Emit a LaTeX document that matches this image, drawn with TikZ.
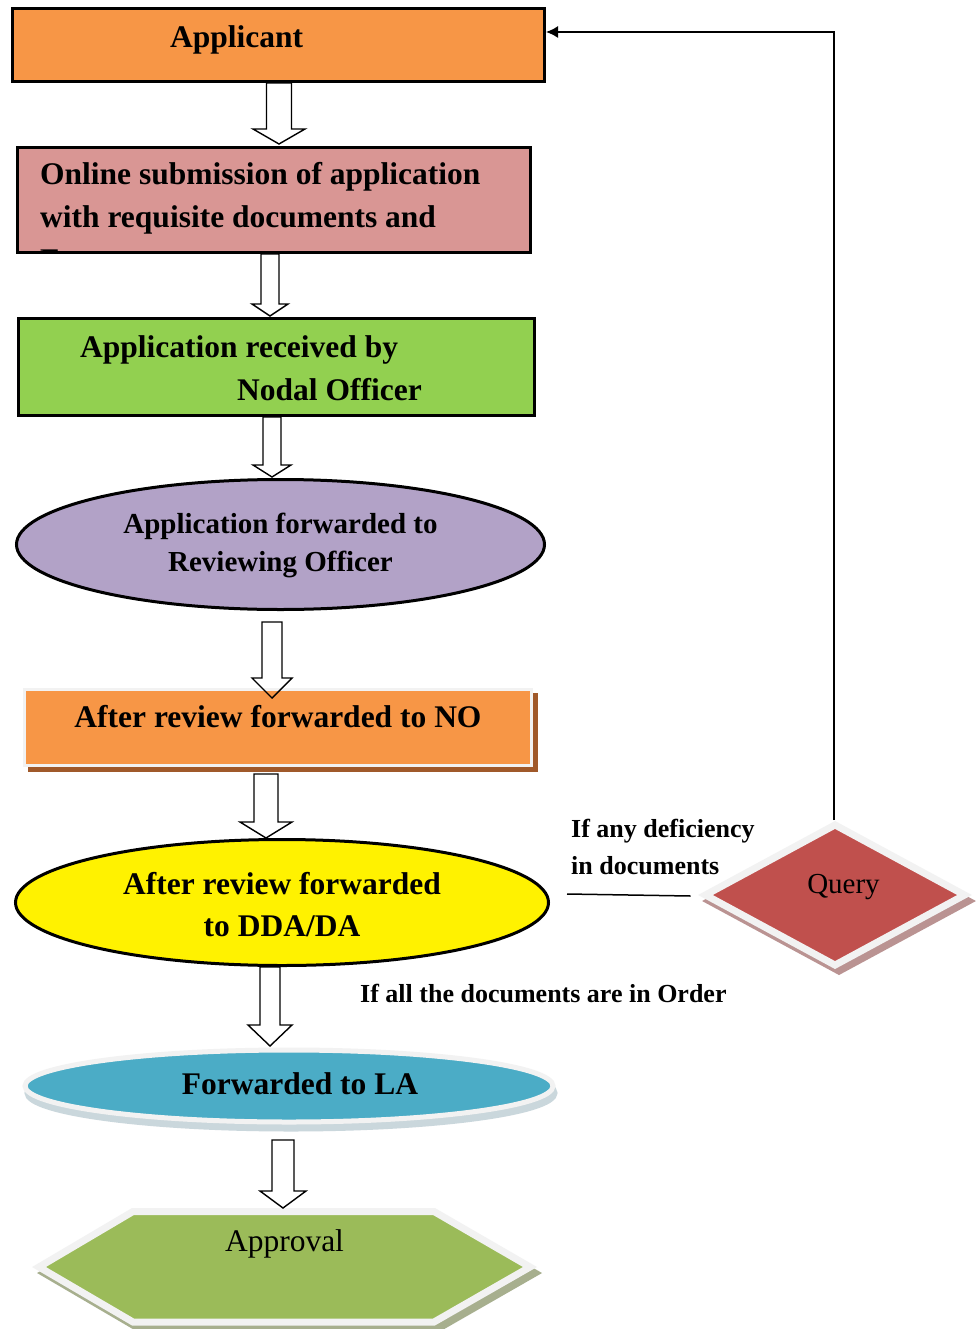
\documentclass[tikz,border=0pt]{standalone}
\usepackage{fontspec}
\setmainfont{Liberation Serif}
\usetikzlibrary{shapes.geometric,calc,arrows.meta}
\definecolor{cApp}{HTML}{F79646}
\definecolor{cSub}{HTML}{D99694}
\definecolor{cRec}{HTML}{92D050}
\definecolor{cFwd}{HTML}{B2A2C7}
\definecolor{cNoSh}{HTML}{A0592A}
\definecolor{cLA}{HTML}{4BACC6}
\definecolor{cLASh}{HTML}{CAD7DC}
\definecolor{cHex}{HTML}{9BBB59}
\definecolor{cHexSh}{HTML}{A7AF8E}
\definecolor{cQ}{HTML}{C0504D}
\definecolor{cQSh}{HTML}{BA9392}
\definecolor{litegray}{HTML}{F2F2F2}
\newcommand\blockarrow[5]{%
  \draw[barrow] let \p1=(#1), \p2=(#2) in
    (\x2-#3pt,\y1) -- (\x2-#3pt,\y2+#5pt) -- (\x2-#4pt,\y2+#5pt) -- (\x2,\y2)
    -- (\x2+#4pt,\y2+#5pt) -- (\x2+#3pt,\y2+#5pt) -- (\x2+#3pt,\y1) -- cycle;}
\begin{document}
\begin{tikzpicture}[x=1pt,y=-1pt,
  blk/.style={draw=black, line width=3pt, inner sep=0pt},
  lite/.style={draw=litegray, line width=3.5pt, inner sep=0pt},
  bt/.style={inner sep=0pt, font=\bfseries\fontsize{31.5}{38}\selectfont},
  bts/.style={inner sep=0pt, font=\bfseries\fontsize{29}{35}\selectfont},
  lbl/.style={inner sep=0pt, font=\bfseries\fontsize{26}{31}\selectfont, anchor=base west},
  rt/.style={inner sep=0pt, font=\fontsize{31.5}{38}\selectfont},
  rtq/.style={inner sep=0pt, font=\fontsize{29}{35}\selectfont},
  barrow/.style={draw=black, line width=1.4pt, line join=miter},
  link/.style={draw=black, line width=1.5pt},
]
\fill[white] (0,0) rectangle (977,1329);
\useasboundingbox (0,0) rectangle (977,1329);

% boxes
\node[blk, rectangle, fill=cApp, minimum width=532pt, minimum height=73pt] (app) at (278.5,45) {};
\node[blk, rectangle, fill=cSub, minimum width=513pt, minimum height=105pt] (sub) at (274,200) {};
\node[blk, rectangle, fill=cRec, minimum width=516pt, minimum height=97pt] (rec) at (276.5,367) {};
\node[blk, ellipse, fill=cFwd, minimum width=528pt, minimum height=130pt] (fwd) at (280.5,544.5) {};

\node[rectangle, fill=cNoSh, draw=cNoSh, line width=3.5pt, inner sep=0pt, minimum width=507pt, minimum height=76pt] (nosh) at (283,732.5) {};
\node[lite, rectangle, fill=cApp, minimum width=507pt, minimum height=76pt] (no) at (278,727.5) {};

\node[blk, ellipse, fill=yellow, minimum width=533pt, minimum height=126pt] (dda) at (282,902.5) {};

\node[ellipse, fill=cLASh, draw=cLASh, line width=5pt, inner sep=0pt, minimum width=528pt, minimum height=72pt] (lash) at (291,1093) {};
\node[lite, ellipse, line width=5pt, fill=cLA, minimum width=528pt, minimum height=72pt] (la) at (289,1086) {};

% hexagon
\fill[cHexSh, draw=cHexSh, line width=7pt] (44,1273) -- (138,1217.5) -- (439,1217.5) -- (535,1273) -- (439,1328) -- (138,1328) -- cycle;
\draw[lite, line width=7pt, fill=cHex] (39,1267) coordinate (hxL) -- (133,1211.5) -- (434,1211.5) -- (530,1267) coordinate (hxR) -- (434,1322) -- (133,1322) -- cycle;

% query diamond
\node[diamond, fill=cQSh, draw=cQSh, line width=7pt, inner sep=0pt, minimum width=262pt, minimum height=143pt] (qsh) at (839,901) {};
\node[diamond, draw=litegray, line width=7pt, fill=cQ, inner sep=0pt, minimum width=262pt, minimum height=143pt] (query) at (835,895) {};

% block arrows
\coordinate (a1e) at (279,144);  \coordinate (a1s) at (a1e |- app.south);
\coordinate (a2e) at (270,316);  \coordinate (a2s) at (a2e |- sub.south);
\coordinate (a3e) at (272,477);  \coordinate (a3s) at (a3e |- rec.south);
\coordinate (a4e) at (272,698);  \coordinate (a4s) at (272,622);
\coordinate (a5e) at (266,838);  \coordinate (a5s) at (266,774);
\coordinate (a6e) at (270,1046); \coordinate (a6s) at (a6e |- dda.south);
\coordinate (a7e) at (283,1208); \coordinate (a7s) at (283,1140);
\blockarrow{a1s}{a1e}{12.5}{26}{15}
\blockarrow{a2s}{a2e}{9}{18}{12}
\blockarrow{a3s}{a3e}{9}{19}{12}
\blockarrow{a4s}{a4e}{10}{20}{20}
\blockarrow{a5s}{a5e}{12}{26}{16}
\blockarrow{a6s}{a6e}{10}{22}{21}
\blockarrow{a7s}{a7e}{11}{23}{17}

% connectors
\draw[link, -{Latex[length=12pt, width=12pt]}] ([xshift=-1pt]query.north) |- ($(app.east)+(0,-13)$);
\draw[link] ($(dda.east)+(17,-8.5)$) -- ($(query.west)+(-10,1)$);

% texts
\node[bt, anchor=base west] (tApp) at (170,48) {Applicant};
\node[bt, anchor=base west] (tSub1) at (40,185) {Online submission of application};
\node[bt, anchor=base west] (tSub2) at (40,228) {with requisite documents and};
\begin{scope}
\clip ($(sub.north west)+(1.5,1.5)$) rectangle ($(sub.south east)+(-1.5,-1.5)$);
\node[bt, anchor=base west] (tSub3) at (40,271) {F};
\end{scope}
\node[bt, anchor=base west] (tRec1) at (80,357) {Application received by};
\node[bt, anchor=base west] (tRec2) at (237,400) {Nodal Officer};
\node[bts, anchor=base] (tFwd1) at (280.5,533) {Application forwarded to};
\node[bts, anchor=base] (tFwd2) at (280.5,571) {Reviewing Officer};
\node[bt, anchor=base] (tNo) at (278,727) {After review forwarded to NO};
\node[bt, anchor=base] (tDda1) at (282,894) {After review forwarded};
\node[bt, anchor=base] (tDda2) at (282,936) {to DDA/DA};
\node[bt, anchor=base] (tLa) at (300,1094) {Forwarded to LA};
\node[rt, anchor=base] (tAppr) at (284.5,1251) {Approval};
\node[rtq, anchor=base] (tQ) at (843.5,893) {Query};
\node[lbl] (l1) at (571,837) {If any deficiency};
\node[lbl] (l2) at (571,874) {in documents};
\node[lbl] (l3) at (360,1002) {If all the documents are in Order};
\end{tikzpicture}
\end{document}
